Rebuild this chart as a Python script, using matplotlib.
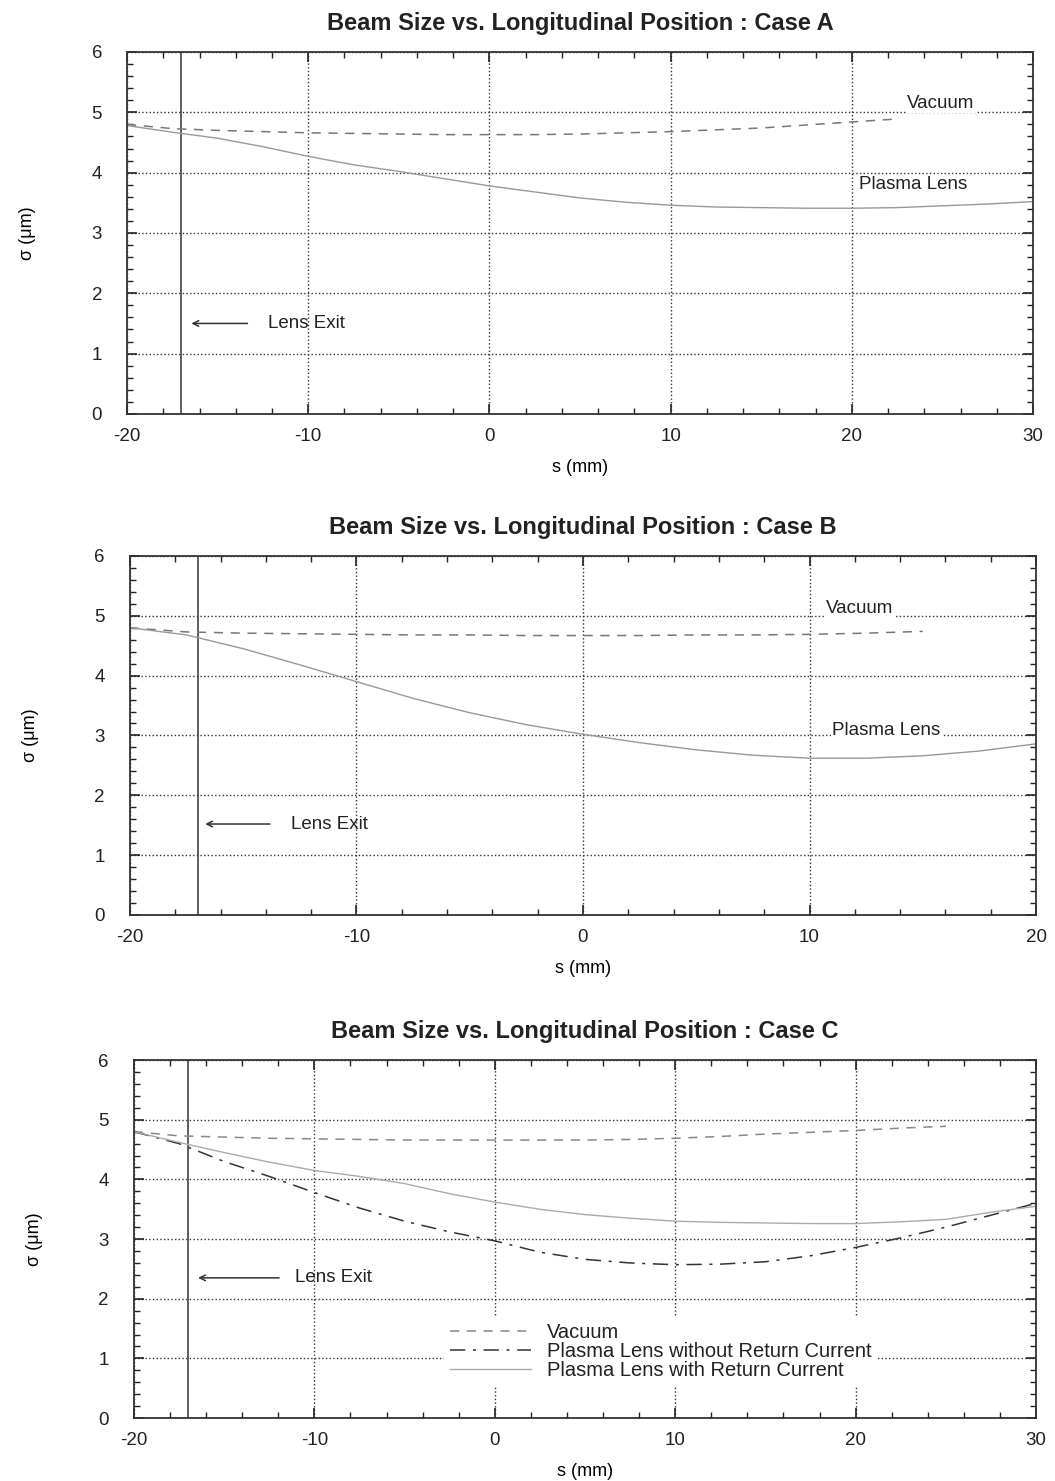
import matplotlib.pyplot as plt
import numpy as np
from matplotlib.ticker import MultipleLocator

plt.rcParams['font.family'] = ['Liberation Sans', 'DejaVu Sans']
plt.rcParams['axes.unicode_minus'] = False

# ---- data ----
lens_exit = -17.0

# case A
xA = [-20, -17.5, -15, -12.5, -10, -7.5, -5, -2.5, 0, 2.5, 5, 7.5, 10,
      12.5, 15, 17.5, 20, 22.5, 25, 27.5, 30]
vacA = [4.80, 4.73, 4.70, 4.68, 4.66, 4.65, 4.64, 4.63, 4.63, 4.63, 4.64,
        4.66, 4.68, 4.71, 4.74, 4.79, 4.84, 4.89]
plasA = [4.78, 4.67, 4.57, 4.43, 4.27, 4.13, 4.02, 3.90, 3.78, 3.68, 3.58,
         3.51, 3.46, 3.43, 3.42, 3.41, 3.41, 3.42, 3.45, 3.48, 3.52]

# case B
xB = [-20, -17.5, -15, -12.5, -10, -7.5, -5, -2.5, 0, 2.5, 5, 7.5, 10,
      12.5, 15, 17.5, 20]
vacB = [4.80, 4.73, 4.71, 4.70, 4.69, 4.68, 4.68, 4.67, 4.67, 4.67, 4.68,
        4.68, 4.69, 4.71, 4.74]
plasB = [4.80, 4.68, 4.45, 4.18, 3.90, 3.62, 3.38, 3.18, 3.02, 2.88, 2.76,
         2.67, 2.62, 2.62, 2.66, 2.74, 2.86]

# case C
xC = xA
vacC = [4.80, 4.73, 4.71, 4.69, 4.68, 4.67, 4.66, 4.66, 4.66, 4.66, 4.66,
        4.67, 4.69, 4.72, 4.76, 4.79, 4.82, 4.86, 4.89]
noretC = [4.80, 4.60, 4.30, 4.05, 3.78, 3.52, 3.30, 3.12, 2.97, 2.78, 2.66,
          2.60, 2.57, 2.58, 2.62, 2.72, 2.86, 3.02, 3.20, 3.40, 3.60]
retC = [4.80, 4.62, 4.45, 4.29, 4.15, 4.05, 3.93, 3.76, 3.62, 3.50, 3.41,
        3.35, 3.30, 3.28, 3.27, 3.26, 3.26, 3.29, 3.33, 3.45, 3.55]

fig = plt.figure(figsize=(10.55, 14.81), dpi=100)

def setup(ax, xmax, title):
    ax.set_xlim(-20, xmax)
    ax.set_ylim(0, 6)
    ax.xaxis.set_major_locator(MultipleLocator(10))
    ax.xaxis.set_minor_locator(MultipleLocator(2))
    ax.yaxis.set_major_locator(MultipleLocator(1))
    ax.yaxis.set_minor_locator(MultipleLocator(0.2))
    ax.tick_params(which='both', direction='in', top=True, right=True,
                   labelsize=13.5, colors='#222222')
    ax.tick_params(which='major', length=7, width=1.2)
    ax.tick_params(which='minor', length=4, width=1)
    ax.tick_params(axis='y', pad=18)
    ax.tick_params(axis='x', pad=10)
    ax.grid(True, which='major', linestyle=':', color='#333333', linewidth=1)
    for s in ax.spines.values():
        s.set_linewidth(1.3)
        s.set_color('#333333')
    ax.set_title(title, fontsize=17, fontweight='bold', pad=16,
                 color='#222222')
    ax.set_xlabel('s (mm)', fontsize=13, labelpad=10)
    ax.set_ylabel('σ (μm)', fontsize=13, labelpad=40)
    ax.axvline(lens_exit, color='#444444', lw=1.2)

white = dict(facecolor='white', edgecolor='none', pad=1)

# ---- A ----
axA = fig.add_axes([0.1204, 0.7205, 0.8588, 0.2444])
setup(axA, 30, 'Beam Size vs. Longitudinal Position : Case A')
axA.plot(xA[:len(vacA)], vacA, color='#777777', lw=1.1, dashes=(6, 5))
axA.plot(xA, plasA, color='#999999', lw=1.0)
axA.annotate('', xy=(-16.6, 1.5), xytext=(-13.2, 1.5),
             arrowprops=dict(arrowstyle='->', color='#333333', lw=1.1))
axA.text(-12.2, 1.5, 'Lens Exit', fontsize=13.5, va='center', color='#222222')
axA.text(24.9, 5.15, 'Vacuum', fontsize=13.5, ha='center', va='center',
         color='#222222', bbox=white)
axA.text(23.4, 3.8, 'Plasma Lens', fontsize=13.5, ha='center', va='center',
         color='#222222', bbox=white)

# ---- B ----
axB = fig.add_axes([0.1232, 0.3822, 0.8588, 0.2424])
setup(axB, 20, 'Beam Size vs. Longitudinal Position : Case B')
axB.plot(xB[:len(vacB)], vacB, color='#777777', lw=1.1, dashes=(6, 5))
axB.plot(xB, plasB, color='#999999', lw=1.0)
axB.annotate('', xy=(-16.8, 1.52), xytext=(-13.7, 1.52),
             arrowprops=dict(arrowstyle='->', color='#333333', lw=1.1))
axB.text(-12.9, 1.52, 'Lens Exit', fontsize=13.5, va='center', color='#222222')
axB.text(12.2, 5.12, 'Vacuum', fontsize=13.5, ha='center', va='center',
         color='#222222', bbox=white)
axB.text(13.4, 3.09, 'Plasma Lens', fontsize=13.5, ha='center', va='center',
         color='#222222', bbox=white)

# ---- C ----
axC = fig.add_axes([0.127, 0.0425, 0.855, 0.2417])
setup(axC, 30, 'Beam Size vs. Longitudinal Position : Case C')
axC.plot(xC[:len(vacC)], vacC, color='#888888', lw=1.1, dashes=(6, 5),
         label='Vacuum')
axC.plot(xC, noretC, color='#333333', lw=1.1, dashes=(10, 5, 2, 5),
         label='Plasma Lens without Return Current')
axC.plot(xC, retC, color='#aaaaaa', lw=1.0,
         label='Plasma Lens with Return Current')
axC.annotate('', xy=(-16.6, 2.35), xytext=(-11.8, 2.35),
             arrowprops=dict(arrowstyle='->', color='#333333', lw=1.1))
axC.text(-11.1, 2.35, 'Lens Exit', fontsize=13.5, va='center', color='#222222')
leg = axC.legend(loc='center', bbox_to_anchor=(0.584, 0.187),
                 frameon=True, handlelength=4.0,
                 prop={'family': ['Liberation Sans Narrow', 'Liberation Sans'],
                       'size': 14.5},
                 borderpad=0.3, labelspacing=0.0, handletextpad=0.8)
leg.get_frame().set_edgecolor('none')
leg.get_frame().set_facecolor('white')
leg.get_frame().set_alpha(1)
for t in leg.get_texts():
    t.set_color('#222222')

fig.savefig('out.png', dpi=100)
